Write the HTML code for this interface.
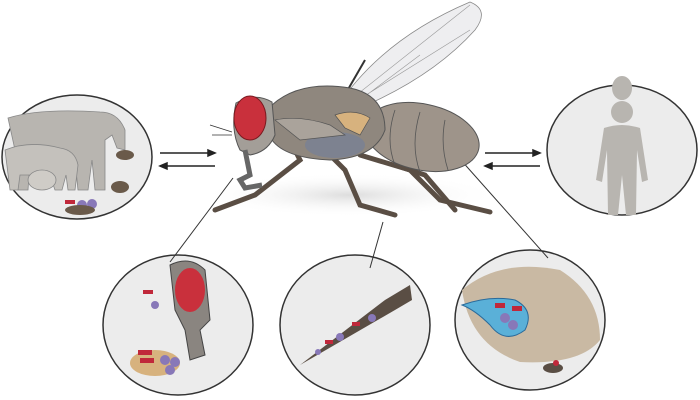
<!DOCTYPE html>
<html><head><style>body{margin:0;background:#fff}svg{display:block}</style></head><body>
<svg width="700" height="400" viewBox="0 0 700 400" xmlns="http://www.w3.org/2000/svg">
<defs><radialGradient id="sh" cx="0.5" cy="0.5" r="0.5"><stop offset="0" stop-color="#ddd"/><stop offset="1" stop-color="#fff" stop-opacity="0"/></radialGradient></defs>
<ellipse cx="350" cy="195" rx="150" ry="22" fill="url(#sh)"/>
<!-- circles -->
<g stroke="#333" stroke-width="1.5" fill="#ececec">
<ellipse cx="77" cy="157" rx="75" ry="62"/>
<ellipse cx="622" cy="150" rx="75" ry="65"/>
<ellipse cx="178" cy="325" rx="75" ry="70"/>
<ellipse cx="355" cy="325" rx="75" ry="70"/>
<ellipse cx="530" cy="320" rx="75" ry="70"/>
</g>
<!-- left circle animals -->
<path d="M8 118 Q40 108 100 112 Q118 112 125 130 L125 150 L117 148 L112 135 L105 140 L105 190 L95 190 L92 160 L88 190 L78 190 L75 160 L30 160 L28 190 L18 190 L15 150 Z" fill="#b8b5b0" stroke="#888" stroke-width="0.8"/>
<path d="M5 150 Q30 140 60 148 Q75 150 78 165 L75 190 L68 190 L66 175 L62 190 L55 190 L50 175 L20 175 L18 190 L10 190 Z" fill="#c4c1bc" stroke="#888" stroke-width="0.8"/>
<ellipse cx="42" cy="180" rx="14" ry="10" fill="#cfccc7" stroke="#888" stroke-width="0.8"/>
<ellipse cx="125" cy="155" rx="9" ry="5" fill="#6a5a4a"/>
<ellipse cx="120" cy="187" rx="9" ry="6" fill="#6a5a4a"/>
<rect x="65" y="200" width="10" height="4" fill="#c0283a"/><circle cx="82" cy="205" r="5" fill="#8878b8"/><circle cx="92" cy="204" r="5" fill="#8878b8"/><ellipse cx="80" cy="210" rx="15" ry="5" fill="#6a5a4a"/>
<!-- right human -->
<path d="M622 100 a10 12 0 1 1 0.1 0 Z M622 100 Z" fill="#b8b5b0"/>
<circle cx="622" cy="112" r="11" fill="#b8b5b0"/>
<path d="M604 128 Q622 122 640 128 L648 180 L642 182 L637 150 L636 215 L626 215 L622 175 L618 215 L608 215 L607 150 L602 182 L596 180 Z" fill="#b8b5b0"/>
<!-- arrows -->
<g stroke="#222" stroke-width="1.5" fill="#222">
<line x1="160" y1="153" x2="210" y2="153"/><path d="M215 153 l-7 -3 v6z"/>
<line x1="165" y1="166" x2="215" y2="166"/><path d="M160 166 l7 -3 v6z"/>
<line x1="485" y1="153" x2="535" y2="153"/><path d="M540 153 l-7 -3 v6z"/>
<line x1="490" y1="166" x2="540" y2="166"/><path d="M485 166 l7 -3 v6z"/>
</g>
<!-- connector lines -->
<g stroke="#333" stroke-width="1"><line x1="233" y1="178" x2="170" y2="262"/><line x1="383" y1="222" x2="370" y2="268"/><line x1="452" y1="150" x2="548" y2="258"/></g>
<!-- wing -->
<path d="M335 110 Q380 40 470 2 Q490 10 475 30 Q430 80 350 112 Z" fill="#eeeef0" stroke="#888" stroke-width="0.8"/>
<path d="M340 108 L470 5 M350 105 L470 30 M360 100 L420 55" stroke="#999" stroke-width="0.6" fill="none"/>
<line x1="335" y1="112" x2="365" y2="60" stroke="#333" stroke-width="2"/>
<!-- legs -->
<g stroke="#5a4e44" stroke-width="5" fill="none" stroke-linecap="round">
<path d="M290 140 L300 160 L255 195 L215 210"/>
<path d="M325 150 L345 170 L360 205 L395 215"/>
<path d="M360 155 L410 170 L440 200 L490 212"/>
<path d="M395 165 L425 175 L455 210"/>
</g>
<!-- abdomen -->
<ellipse cx="422" cy="137" rx="58" ry="33" transform="rotate(12 422 137)" fill="#9e948a" stroke="#555" stroke-width="1"/>
<path d="M395 110 Q385 140 395 165 M420 112 Q410 145 420 172 M445 120 Q440 145 448 170" stroke="#555" fill="none" stroke-width="0.8"/>
<!-- thorax -->
<path d="M272 105 Q300 80 350 88 Q385 95 385 130 Q375 158 330 160 Q285 158 272 140 Z" fill="#8f877e" stroke="#555" stroke-width="1"/>
<ellipse cx="335" cy="145" rx="30" ry="13" fill="#7d8290"/>
<path d="M275 120 Q300 115 330 125 L345 135 L300 140 Z" fill="#aaa39b" stroke="#555" stroke-width="0.7"/>
<path d="M335 115 Q355 108 370 118 L360 135 L345 128 Z" fill="#d7b27e" stroke="#555" stroke-width="0.7"/>
<!-- head -->
<path d="M236 103 Q255 92 272 102 L275 135 Q268 152 250 155 L240 150 Q230 130 236 103 Z" fill="#a39e98" stroke="#555" stroke-width="1"/>
<ellipse cx="250" cy="118" rx="16" ry="22" fill="#c9303c" stroke="#7a1a20" stroke-width="1"/>
<path d="M245 150 L250 175 L240 180 L245 188 L262 185" stroke="#666" stroke-width="5" fill="none"/>
<path d="M232 132 L210 125 M232 135 L212 135" stroke="#333" stroke-width="0.8"/>
<!-- bottom left circle content -->
<path d="M170 265 Q190 255 205 270 L210 320 L200 330 L205 355 L190 360 L185 330 L175 310 Z" fill="#8a8580" stroke="#444"/>
<ellipse cx="190" cy="290" rx="15" ry="22" fill="#c9303c"/>
<circle cx="155" cy="305" r="4" fill="#8878b8"/><rect x="143" y="290" width="10" height="4" fill="#c0283a"/>
<ellipse cx="155" cy="363" rx="25" ry="13" fill="#d7b27e"/>
<rect x="138" y="350" width="14" height="5" fill="#c0283a"/><rect x="140" y="358" width="14" height="5" fill="#c0283a"/>
<circle cx="165" cy="360" r="5" fill="#8878b8"/><circle cx="175" cy="362" r="5" fill="#8878b8"/><circle cx="170" cy="370" r="5" fill="#8878b8"/>
<!-- bottom middle -->
<path d="M300 365 L385 300 L410 285 L412 300 L395 310 Z" fill="#5a4e44"/>
<rect x="325" y="340" width="8" height="4" fill="#c0283a"/><circle cx="340" cy="337" r="4" fill="#8878b8"/><rect x="352" y="322" width="8" height="4" fill="#c0283a"/><circle cx="372" cy="318" r="4" fill="#8878b8"/><circle cx="318" cy="352" r="3" fill="#8878b8"/>
<!-- bottom right -->
<path d="M462 290 Q500 258 560 270 Q600 295 600 340 Q580 365 520 362 Q470 345 462 290 Z" fill="#c9b9a3"/>
<path d="M462 305 Q490 295 515 300 Q535 310 525 330 Q505 345 490 325 Q475 310 462 305 Z" fill="#5ab0d8" stroke="#2a6a9a"/>
<circle cx="505" cy="318" r="5" fill="#8878b8"/><circle cx="513" cy="325" r="5" fill="#8878b8"/><rect x="495" y="303" width="10" height="5" fill="#c0283a"/><rect x="512" y="306" width="10" height="5" fill="#c0283a"/>
<ellipse cx="553" cy="368" rx="10" ry="5" fill="#5a4e44"/><circle cx="556" cy="363" r="3" fill="#c0283a"/>
</svg>
</body></html>
